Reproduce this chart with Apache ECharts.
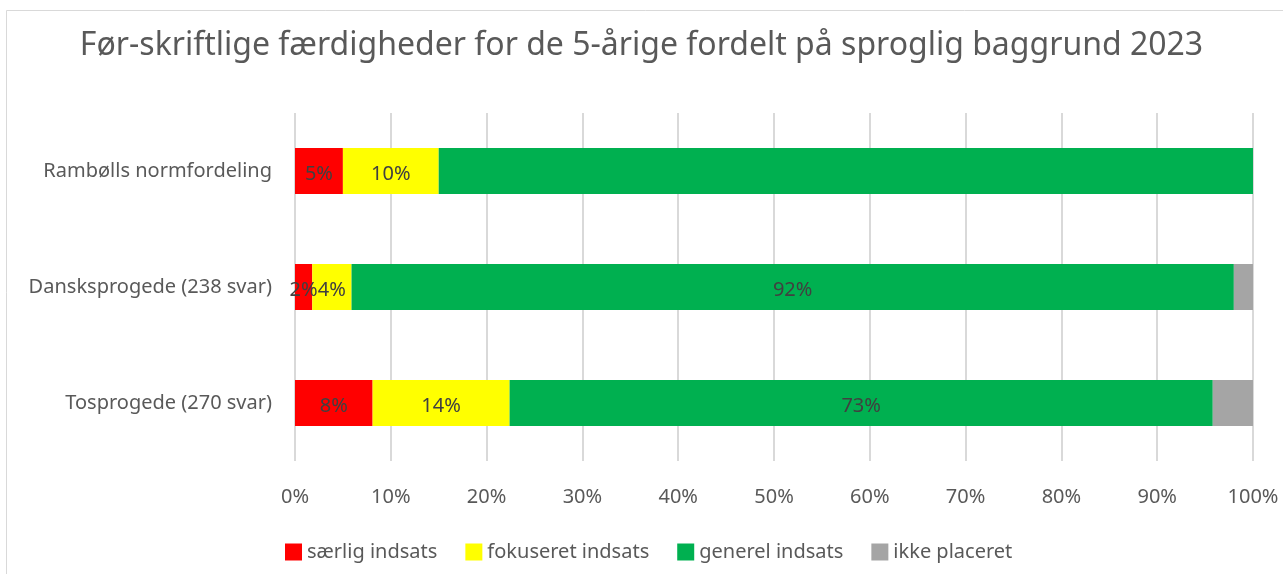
<!DOCTYPE html>
<html>
<head>
<meta charset="utf-8">
<script src="https://cdn.jsdelivr.net/npm/echarts@6/dist/echarts.min.js"></script>
<style>
  html, body { margin: 0; padding: 0; background: #fff; }
  #chart { width: 1283px; height: 574px; }
</style>
</head>
<body>
<div id="chart"></div>
<script>
// kategorier, oppefra og ned
var categories = ['Rambølls normfordeling', 'Dansksprogede (238 svar)', 'Tosprogede (270 svar)']
var seriesNames = ['særlig indsats', 'fokuseret indsats', 'generel indsats', 'ikke placeret']
// andele i procent, samme rækkefølge som categories
var saerlig = [5, 1.8, 8.1]
var fokuseret = [10, 4.1, 14.3]
var generel = [85, 92.1, 73.4]
var ikkePlaceret = [0, 2.0, 4.2]
var xTicks = [0, 10, 20, 30, 40, 50, 60, 70, 80, 90, 100]
// hvilke felter der ikke får en værdi-etiket
var hiddenLabels = { 2: [0], 3: [0, 1, 2] }

var colors = ['#ff0000', '#ffff00', '#00b050', '#a5a5a5']
var font = 'Noto Sans'

var chart = echarts.init(document.getElementById('chart'))

var series = [saerlig, fokuseret, generel, ikkePlaceret].map(function(values, si) {
  return {
    name: seriesNames[si],
    type: 'bar',
    stack: 'total',
    barWidth: 46,
    itemStyle: { color: colors[si] },
    label: {
      show: true,
      position: 'inside',
      offset: [0, 3],
      color: '#404040',
      fontFamily: font,
      fontSize: 20,
      formatter: function(p) {
        var hide = hiddenLabels[si] || []
        if (hide.indexOf(p.dataIndex) >= 0) return ''
        return Math.round(p.value) + '%'
      }
    },
    data: values
  }
})

chart.setOption({
  backgroundColor: '#fff',
  animation: false,
  title: {
    text: 'Før-skriftlige færdigheder for de 5-årige fordelt på sproglig baggrund 2023',
    left: 'center',
    top: 25,
    textStyle: {
      fontFamily: font,
      fontWeight: 'normal',
      fontSize: 32,
      color: '#595959'
    }
  },
  legend: {
    top: 537,
    left: 280,
    icon: 'rect',
    itemWidth: 17,
    itemHeight: 17,
    itemGap: 28,
    textStyle: { fontFamily: font, fontSize: 20, color: '#595959' },
    data: seriesNames
  },
  grid: {
    left: 295,
    right: 30,
    top: 113,
    bottom: 113
  },
  xAxis: {
    type: 'value',
    min: xTicks[0],
    max: xTicks[xTicks.length - 1],
    interval: 10,
    axisLine: { show: false },
    axisTick: { show: false },
    axisLabel: {
      margin: 26,
      color: '#595959',
      fontFamily: font,
      fontSize: 20,
      formatter: '{value}%'
    },
    splitLine: { lineStyle: { color: '#d9d9d9', width: 2 } }
  },
  yAxis: {
    type: 'category',
    inverse: true,
    data: categories,
    axisLine: { show: false },
    axisTick: { show: false },
    axisLabel: {
      margin: 23,
      color: '#595959',
      fontFamily: font,
      fontSize: 20
    }
  },
  graphic: [{
    type: 'rect',
    shape: { x: 6.5, y: 10.5, width: 1400, height: 700 },
    style: { fill: null, stroke: '#d9d9d9', lineWidth: 1 },
    silent: true
  }],
  series: series
})
</script>
</body>
</html>
